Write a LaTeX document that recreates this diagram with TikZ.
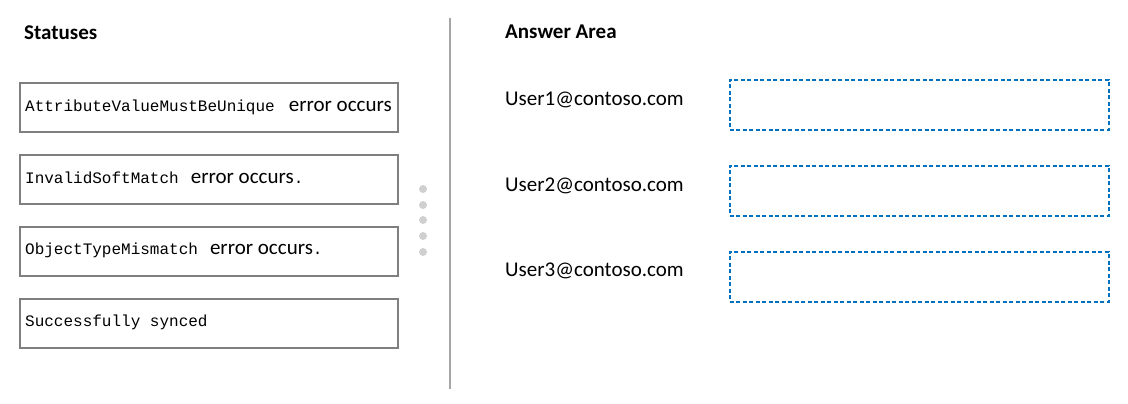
\documentclass[tikz,border=0pt]{standalone}
\usepackage{fontspec}
\setmainfont{Carlito}
\newfontfamily\monof{Liberation Mono}
\definecolor{boxgray}{HTML}{7F7F7F}
\definecolor{linegray}{HTML}{A6A6A6}
\definecolor{dotgray}{HTML}{D0D0D0}
\definecolor{ansblue}{HTML}{0070C0}
\begin{document}
\begin{tikzpicture}[x=1pt,y=-1pt,
  status/.style={draw=boxgray,line width=1.6pt,minimum width=378pt,minimum height=49pt,inner sep=0pt,anchor=north west},
  answer/.style={draw=ansblue,line width=1.8pt,dash pattern=on 4pt off 2.5pt,minimum width=379pt,minimum height=50pt,inner sep=0pt,anchor=north west},
  title/.style={anchor=west,font=\fontsize{21}{24}\selectfont\bfseries,inner sep=0pt},
  user/.style={anchor=west,font=\fontsize{21}{24}\selectfont,inner sep=0pt},
  stext/.style={anchor=west,inner sep=0pt},
  dot/.style={circle,fill=dotgray,minimum size=8pt,inner sep=0pt}]
\useasboundingbox (0,0) rectangle (1128,404);
\node[title] (t1) at (24,33) {Statuses};
\node[title] (t2) at (505,32) {Answer Area};
\node[status] (s1) at (19,82) {};
\node[status] (s2) at (19,154) {};
\node[status] (s3) at (19,226) {};
\node[status] (s4) at (19,298) {};
\node[stext] (l1) at (25,107) {\monof\fontsize{16}{18}\selectfont AttributeValueMustBeUnique\hspace{14pt}{\rmfamily\fontsize{21}{24}\selectfont error occurs}};
\node[stext] (l2) at (25,178) {\monof\fontsize{16}{18}\selectfont InvalidSoftMatch\hspace{12pt}{\rmfamily\fontsize{21}{24}\selectfont error occurs}.};
\node[stext] (l3) at (25,250) {\monof\fontsize{16}{18}\selectfont ObjectTypeMismatch\hspace{12pt}{\rmfamily\fontsize{21}{24}\selectfont error occurs}.};
\node[stext] (l4) at (25,322) {\monof\fontsize{16}{18}\selectfont Successfully synced};
\coordinate (vtop) at (450,18);
\coordinate (vbot) at (450,389);
\draw[linegray,line width=2pt] (vtop) -- (vbot);
\foreach \i/\y in {1/189,2/205,3/220,4/236,5/252} \node[dot] (d\i) at (423,\y) {};
\node[user] (u1) at (505,100) {User1@contoso.com};
\node[user] (u2) at (505,186) {User2@contoso.com};
\node[user] (u3) at (505,271) {User3@contoso.com};
\node[answer] (a1) at (729,79) {};
\node[answer] (a2) at (729,165) {};
\node[answer] (a3) at (729,251) {};
\end{tikzpicture}
\end{document}
